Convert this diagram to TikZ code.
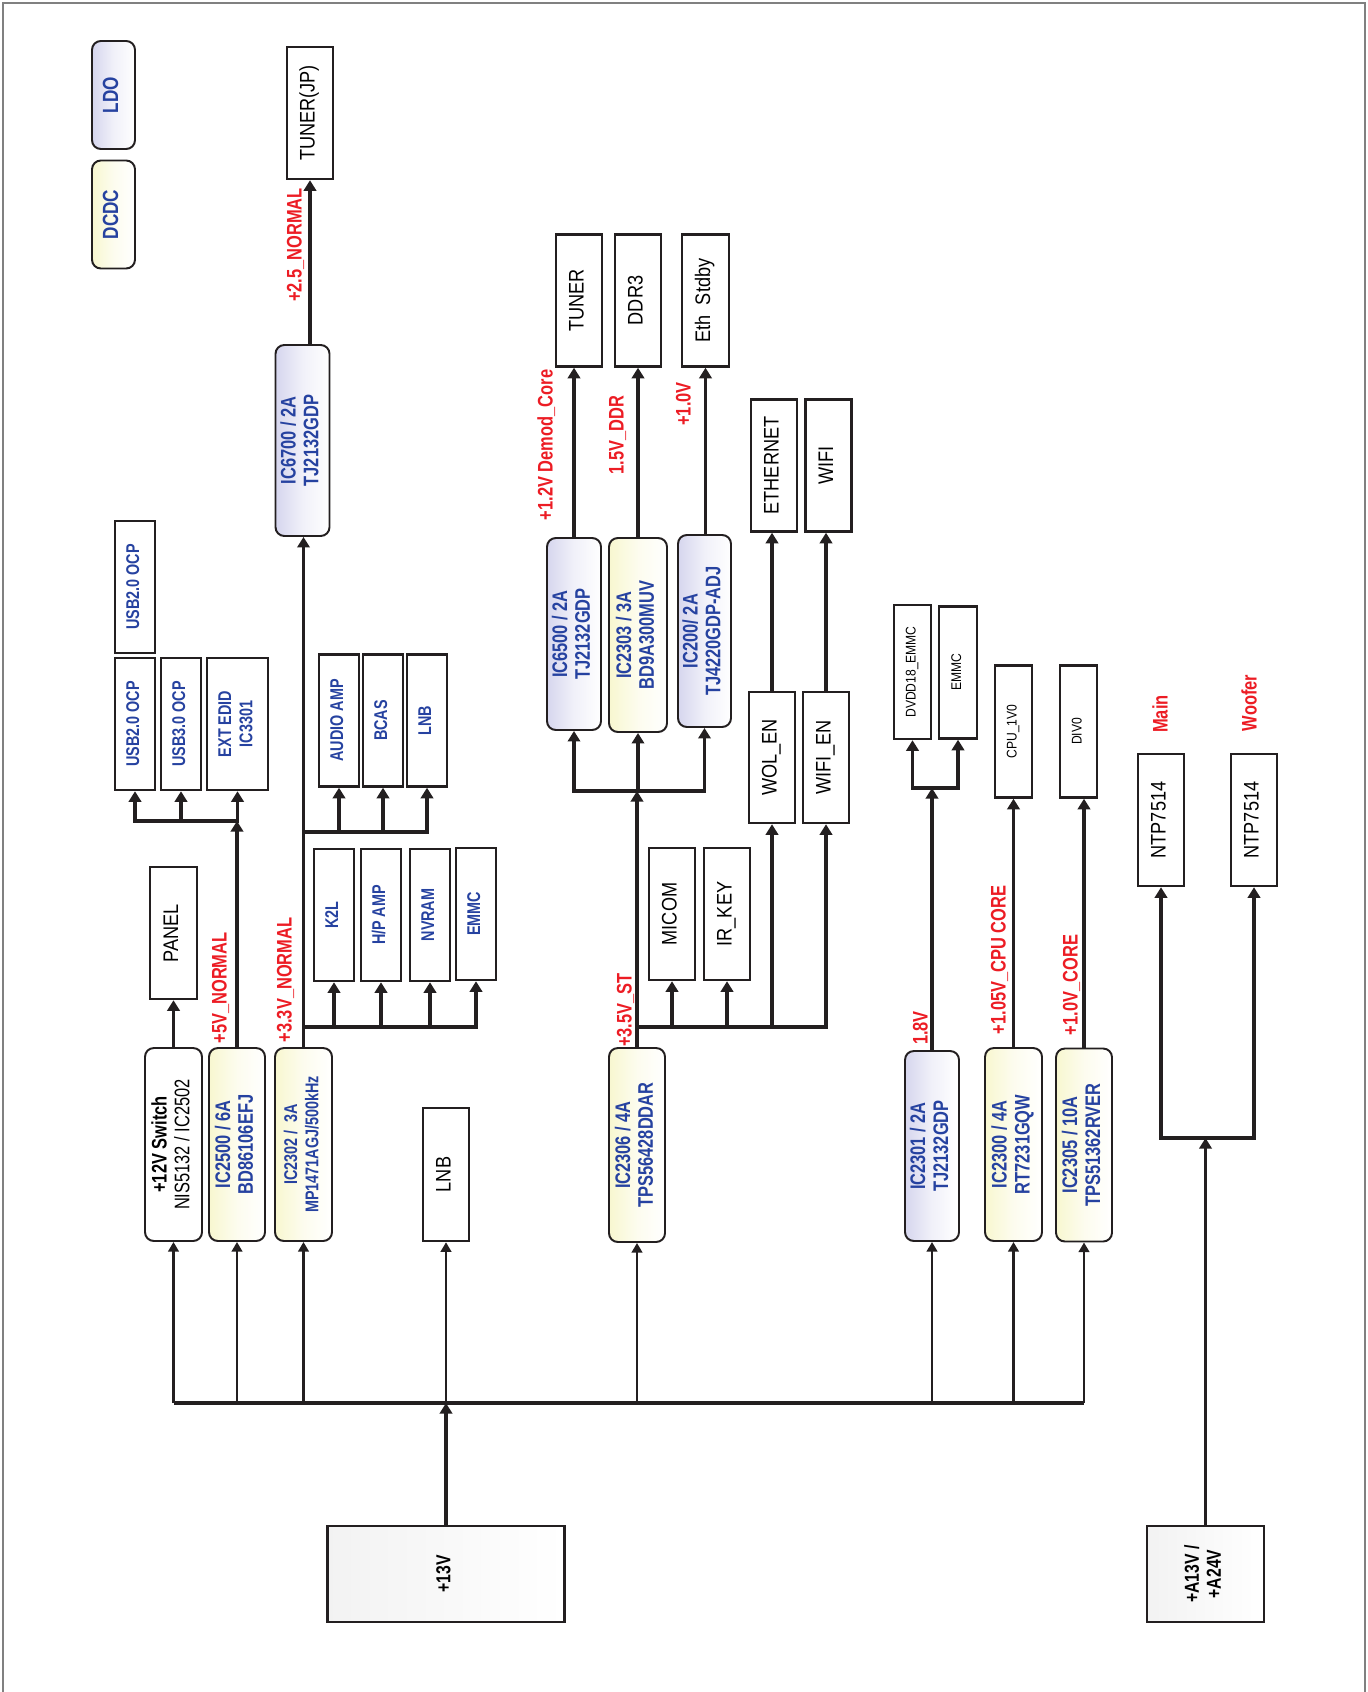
\documentclass[tikz,border=0pt]{standalone}
\usepackage{fontspec}
\setmainfont{Liberation Sans}
\newfontfamily\cfam[FakeStretch=0.78]{Liberation Sans}
\newfontfamily\nfam[FakeStretch=0.86]{Liberation Sans}
\usetikzlibrary{arrows.meta,positioning,calc}

\definecolor{icblue}{RGB}{38,66,160}
\definecolor{volred}{RGB}{236,28,36}
\definecolor{ldofill}{RGB}{214,214,238}
\definecolor{dcfill}{RGB}{248,247,208}
\definecolor{linegray}{RGB}{35,31,32}

\newcommand{\vt}[1]{\rotatebox{90}{\begin{tabular}{@{}c@{}}#1\end{tabular}}}

\tikzset{
  blk/.style={draw=linegray,line width=1.4pt,rectangle,inner sep=0pt,fill=white},
  devblk/.style={blk,minimum width=0.8cm,minimum height=2.64cm,text=icblue,
    font=\cfam\bfseries\fontsize{10.5}{12}\selectfont},
  outblk/.style={blk,minimum width=0.92cm,minimum height=2.64cm,
    font=\nfam\fontsize{12}{13}\selectfont},
  minblk/.style={blk,minimum width=0.74cm,minimum height=2.64cm,
    font=\nfam\fontsize{8}{9}\selectfont},
  regblk/.style={draw=linegray,line width=1.1pt,rounded corners=5pt,inner sep=0pt,
    minimum width=1.08cm,minimum height=3.86cm,text=icblue,
    font=\cfam\bfseries\fontsize{12}{13}\selectfont},
  ldoblk/.style={regblk,left color=ldofill,right color=white,middle color=ldofill!35},
  dcblk/.style={regblk,left color=dcfill,right color=white,middle color=dcfill!35},
  keyblk/.style={minimum width=0.86cm,minimum height=2.16cm,
    font=\cfam\bfseries\fontsize{12.5}{13}\selectfont},
  pwrblk/.style={draw=linegray,line width=1.6pt,inner sep=0pt,minimum height=1.92cm,
    left color=gray!10,right color=white,font=\cfam\bfseries\fontsize{11.5}{12.5}\selectfont},
  vlbl/.style={inner sep=0pt,text=volred,font=\cfam\bfseries\fontsize{12}{13}\selectfont},
  arr/.style={-{Triangle[length=6pt,width=7pt]},line width=2pt,draw=linegray},
  farr/.style={-{Triangle[length=5.5pt,width=6pt]},line width=1.5pt,draw=linegray},
  bus/.style={line width=2.8pt,draw=linegray}
}

\begin{document}
\begin{tikzpicture}[x=0.02cm,y=-0.02cm]
  \useasboundingbox (0,0) rectangle (1367,1692);
  \draw[gray,line width=0.8pt] (3,1692) |- (1365,3) -- (1365,1692);

  % key
  \node[ldoblk,keyblk] (ldokey) at (113.5,95) {\vt{LDO}};
  \node[dcblk,keyblk] (dckey) at (113.5,214.5) {\vt{DCDC}};

  % +2.5V branch
  \node[outblk] (tunerjp) at (310,113) {\vt{TUNER(JP)}};
  \node[ldoblk,minimum height=3.82cm] (ic6700) at (302.5,440.5) {\vt{IC6700 / 2A\\TJ2132GDP}};

  % USB / EDID
  \node[devblk] (usbb) at (135,587) {\vt{USB2.0 OCP}};
  \node[devblk] (usba) at (135,724) {\vt{USB2.0 OCP}};
  \node[devblk] (usbc) at (181,724) {\vt{USB3.0 OCP}};
  \node[devblk,minimum width=1.22cm] (edid) at (237.5,724) {\vt{EXT EDID\\IC3301}};
  \node[outblk,minimum width=0.94cm] (panel) at (173.5,933) {\vt{PANEL}};

  % +13V regulators, left
  \node[regblk,fill=white,minimum width=1.14cm,text=black,
    font=\cfam\fontsize{12}{13}\selectfont] (sw12) at (173.5,1144.5)
    {\vt{{\bfseries +12V Switch}\\NIS5132 / IC2502}};
  \node[dcblk,minimum width=1.12cm] (ic2500) at (237,1144.5) {\vt{IC2500 / 6A\\BD86106EFJ}};
  \node[dcblk,minimum width=1.14cm,font=\cfam\bfseries\fontsize{10.5}{12}\selectfont]
    (ic2302) at (303.5,1144.5) {\vt{IC2302 /\ \ 3A\\MP1471AGJ/500kHz}};

  % +3.3V loads
  \node[devblk] (audamp) at (339,720.5) {\vt{AUDIO AMP}};
  \node[devblk] (bcas) at (383,720.5) {\vt{BCAS}};
  \node[devblk] (lnbpw) at (427,720.5) {\vt{LNB}};
  \node[devblk] (k2l) at (334,915) {\vt{K2L}};
  \node[devblk] (hpamp) at (381,915) {\vt{H/P AMP}};
  \node[devblk] (nvram) at (430,915) {\vt{NVRAM}};
  \node[devblk] (emmcb) at (476,914) {\vt{EMMC}};
  \node[outblk,minimum height=2.66cm] (lnb) at (446,1174.5) {\vt{LNB}};

  % +3.5V_ST branch
  \node[outblk] (tuner) at (579,300.5) {\vt{TUNER}};
  \node[outblk] (ddr3) at (638,300.5) {\vt{DDR3}};
  \node[outblk,minimum width=0.94cm] (ethsb) at (705.5,300.5) {\vt{Eth\ \ Stdby}};
  \node[ldoblk,minimum height=3.84cm] (ic6500) at (574,634) {\vt{IC6500 / 2A\\TJ2132GDP}};
  \node[dcblk,minimum width=1.16cm,minimum height=3.88cm] (ic2303) at (638,635) {\vt{IC2303 / 3A\\BD9A300MUV}};
  \node[ldoblk,minimum width=1.06cm,minimum height=3.84cm] (ic200) at (704.5,631) {\vt{IC200/ 2A\\TJ4220GDP-ADJ}};
  \node[outblk] (ethnet) at (774,465.5) {\vt{ETHERNET}};
  \node[outblk] (wifi) at (828.5,465.5) {\vt{WIFI}};
  \node[outblk,minimum height=2.62cm] (wolen) at (772,757.5) {\vt{WOL\_EN}};
  \node[outblk,minimum height=2.62cm] (wifien) at (826,757.5) {\vt{WIFI\_EN}};
  \node[outblk] (micom) at (672,914) {\vt{MICOM}};
  \node[outblk] (irkey) at (727,914) {\vt{IR\_KEY}};
  \node[dcblk,minimum width=1.12cm,minimum height=3.88cm] (ic2306) at (637,1145) {\vt{IC2306 / 4A\\TPS56428DDAR}};

  % right side regulators
  \node[minblk,minimum height=2.68cm] (dvdd) at (912.5,672) {\vt{DVDD18\_EMMC}};
  \node[minblk,minimum width=0.76cm] (emmcs) at (958,672.5) {\vt{EMMC}};
  \node[minblk] (cpu1v0) at (1013.5,731.5) {\vt{CPU\_1V0}};
  \node[minblk] (div0) at (1078.5,731.5) {\vt{DIV0}};
  \node[ldoblk,minimum height=3.8cm] (ic2301) at (932,1146) {\vt{IC2301 / 2A\\TJ2132GDP}};
  \node[dcblk,minimum width=1.14cm] (ic2300) at (1013.5,1144.5) {\vt{IC2300 / 4A\\RT7231GQW}};
  \node[dcblk,minimum width=1.12cm] (ic2305) at (1084,1145) {\vt{IC2305 / 10A\\TPS51362RVER}};

  % amps
  \node[outblk] (ntpm) at (1161,820) {\vt{NTP7514}};
  \node[outblk] (ntpw) at (1254,820) {\vt{NTP7514}};

  % inputs
  \node[pwrblk,minimum width=4.74cm] (v13) at (446,1574) {\vt{+13V}};
  \node[pwrblk,minimum width=2.34cm] (a13v) at (1205.5,1574) {\vt{+A13V /\\+A24V}};

  % rail names
  \node[vlbl] (l25) at (297,245) {\vt{+2.5\_NORMAL}};
  \node[vlbl] (l5) at (222,988) {\vt{+5V\_NORMAL}};
  \node[vlbl] (l33) at (287,980) {\vt{+3.3V\_NORMAL}};
  \node[vlbl] (l12) at (548,445) {\vt{+1.2V Demod\_Core}};
  \node[vlbl] (l15) at (619,435) {\vt{1.5V\_DDR}};
  \node[vlbl] (l10) at (686,404) {\vt{+1.0V}};
  \node[vlbl] (l35) at (627,1010) {\vt{+3.5V\_ST}};
  \node[vlbl] (l18) at (923,1028) {\vt{1.8V}};
  \node[vlbl] (l105) at (1001,960) {\vt{+1.05V\_CPU CORE}};
  \node[vlbl] (l10c) at (1073,985) {\vt{+1.0V\_CORE}};
  \node[vlbl] (lmain) at (1163,714) {\vt{Main}};
  \node[vlbl] (lwoof) at (1252,703) {\vt{Woofer}};

  % junctions
  \coordinate (j5) at (237,821);
  \coordinate (j33a) at (303.5,832);
  \coordinate (j33b) at (303.5,1027);
  \coordinate (j35a) at (637,791);
  \coordinate (j35b) at (637,1027);
  \coordinate (j18) at (932,788);
  \coordinate (jamp) at (1205.5,1138);
  \coordinate (j13) at (446,1403);

  % +13V bus
  \draw[arr] (v13.north) -- (j13);
  \draw[bus] (sw12.south |- j13) -- (ic2305.south |- j13);
  \foreach \n in {sw12,ic2500,ic2302,lnb,ic2306,ic2301,ic2300,ic2305}
    \draw[farr] (\n.south |- j13) -- (\n.south);

  % +12V / +5V
  \draw[arr] (sw12.north) -- (panel.south);
  \draw[arr] (ic2500.north) -- (j5);
  \foreach \n in {usba,usbc,edid}
    \draw[arr] (j5) -| (\n.south);

  % +3.3V
  \draw[arr] (ic2302.north) -- (ic2302.north |- ic6700.south);
  \foreach \n in {audamp,bcas,lnbpw}
    \draw[arr] (j33a) -| (\n.south);
  \foreach \n in {k2l,hpamp,nvram,emmcb}
    \draw[arr] (j33b) -| (\n.south);
  \draw[arr] (tunerjp.south |- ic6700.north) -- (tunerjp.south);

  % +3.5V_ST
  \draw[arr] (ic2306.north) -- (j35a);
  \foreach \n in {ic6500,ic2303,ic200}
    \draw[arr] (j35a) -| (\n.south);
  \foreach \n in {micom,irkey,wolen,wifien}
    \draw[arr] (j35b) -| (\n.south);
  \draw[arr] (ic6500.north) -- (ic6500.north |- tuner.south);
  \draw[arr] (ic2303.north) -- (ic2303.north |- ddr3.south);
  \draw[arr] (ethsb.south |- ic200.north) -- (ethsb.south);
  \draw[arr] (wolen.north) -- (wolen.north |- ethnet.south);
  \draw[arr] (wifien.north) -- (wifien.north |- wifi.south);

  % core rails
  \draw[arr] (ic2301.north) -- (j18);
  \draw[arr] (j18) -| (dvdd.south);
  \draw[arr] (j18) -| (emmcs.south);
  \draw[arr] (ic2300.north) -- (ic2300.north |- cpu1v0.south);
  \draw[arr] (ic2305.north) -- (ic2305.north |- div0.south);

  % audio amps
  \draw[arr] (a13v.north) -- (jamp);
  \draw[arr] (jamp) -| (ntpm.south);
  \draw[arr] (jamp) -| (ntpw.south);
\end{tikzpicture}
\end{document}
